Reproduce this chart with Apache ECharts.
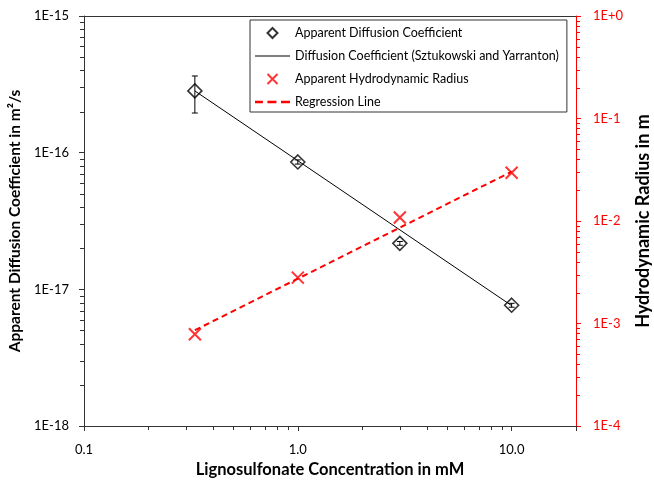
<!DOCTYPE html>
<html>
<head>
<meta charset="utf-8">
<script src="https://cdn.jsdelivr.net/npm/echarts@6/dist/echarts.min.js"></script>
<style>
  html, body { margin: 0; padding: 0; background: #fff; }
  #chart { width: 654px; height: 480px; }
</style>
</head>
<body>
<div id="chart"></div>
<script>
// Concentrations (mM)
const concentrations = [0.33, 1.0, 3.0, 10.0];
// Apparent diffusion coefficient (m²/s) with error bar bounds
const diffusion = [2.83e-16, 8.55e-17, 2.17e-17, 7.65e-18];
const diffusionLow = [1.95e-16, 8.25e-17, 2.10e-17, 7.40e-18];
const diffusionHigh = [3.64e-16, 8.85e-17, 2.24e-17, 7.90e-18];
// Literature line (Sztukowski and Yarranton), end points
const literatureX = [0.33, 10.0];
const literatureY = [2.83e-16, 7.6e-18];
// Apparent hydrodynamic radius (m)
const radius = [7.85e-4, 2.80e-3, 1.08e-2, 2.96e-2];
// Regression line end points
const regressionX = [0.33, 10.0];
const regressionY = [8.6e-4, 3.03e-2];

// Tick labels, indexed by decade exponent
const xTickLabels = { '-1': '0.1', '0': '1.0', '1': '10.0' };
const leftTickLabels = { '-15': '1E-15', '-16': '1E-16', '-17': '1E-17', '-18': '1E-18' };
const rightTickLabels = { '0': '1E+0', '-1': '1E-1', '-2': '1E-2', '-3': '1E-3', '-4': '1E-4' };

// Minor tick multipliers and decades for the log axes
const minorSteps = [2, 3, 4, 5, 6, 7, 8, 9];
const xMinorDecades = [0.1, 1];
const leftMinorDecades = [1e-18, 1e-17, 1e-16];
const rightMinorDecades = [1e-4, 1e-3, 1e-2, 1e-1];

const X_MIN = 0.1, X_MAX = 20;
const L_MIN = 1e-18, L_MAX = 1e-15;
const R_MIN = 1e-4, R_MAX = 1;

const FONT = 'Lato';
const RED = '#ff0000';
const AXIS = '#333333';

function minorValues(decades) {
  const out = [];
  decades.forEach(d => minorSteps.forEach(m => out.push(m * d)));
  return out;
}

function labelFromMap(map) {
  return function (v) {
    const lg = Math.log10(v);
    const e = Math.round(lg);
    if (Math.abs(lg - e) > 0.01) return '';
    return map[String(e)] || '';
  };
}

const chart = echarts.init(document.getElementById('chart'), null, { renderer: 'canvas' });

const option = {
  backgroundColor: '#fff',
  animation: false,
  textStyle: { fontFamily: FONT },
  grid: { left: 84, right: 78, top: 16, bottom: 54, outerBoundsMode: 'none', containLabel: false },
  legend: {
    data: [
      { name: 'Apparent Diffusion Coefficient', icon: 'path://M5,0 L10,5 L5,10 L0,5 Z' },
      { name: 'Diffusion Coefficient (Sztukowski and Yarranton)', icon: 'path://M0,0 L35,0 L35,1.2 L0,1.2 Z' },
      { name: 'Apparent Hydrodynamic Radius', icon: 'path://M0,0 L10,10 M10,0 L0,10' },
      { name: 'Regression Line', icon: 'path://M0,0 h7 v2 h-7 Z M11,0 h8 v2 h-8 Z M23,0 h8 v2 h-8 Z' }
    ],
    orient: 'vertical',
    left: 250,
    top: 20,
    padding: [6, 8, 3, 5],
    itemWidth: 35,
    itemHeight: 10,
    itemGap: 9,
    symbolKeepAspect: true,
    borderColor: '#333',
    borderWidth: 1,
    backgroundColor: '#fff',
    textStyle: { fontFamily: FONT, fontSize: 12.5, color: '#000', lineHeight: 14 }
  },
  xAxis: [{
    type: 'log',
    logBase: 10,
    min: X_MIN,
    max: X_MAX,
    position: 'bottom',
    name: 'Lignosulfonate Concentration in mM',
    nameLocation: 'middle',
    nameGap: 35,
    nameTextStyle: { fontFamily: FONT, fontSize: 16.5, fontWeight: 'bold', color: '#000' },
    axisLine: { lineStyle: { color: AXIS, width: 1 } },
    axisTick: { show: true, inside: false, length: 5, lineStyle: { color: AXIS } },
    axisLabel: { margin: 17, fontSize: 13, color: '#000', fontFamily: FONT, formatter: labelFromMap(xTickLabels) },
    splitLine: { show: false }
  }, {
    type: 'log',
    logBase: 10,
    min: X_MIN,
    max: X_MAX,
    position: 'top',
    axisLine: { lineStyle: { color: AXIS, width: 1 } },
    axisTick: { show: false },
    axisLabel: { show: false },
    splitLine: { show: false }
  }],
  yAxis: [{
    type: 'log',
    logBase: 10,
    min: L_MIN,
    max: L_MAX,
    position: 'left',
    name: 'Apparent Diffusion Coefficient in m²/s',
    nameLocation: 'middle',
    nameRotate: 90,
    nameGap: 54,
    nameTextStyle: { fontFamily: FONT, fontSize: 15.5, fontWeight: 'bold', color: '#000' },
    axisLine: { show: true, lineStyle: { color: AXIS, width: 1 } },
    axisTick: { show: true, inside: false, length: 5, lineStyle: { color: AXIS } },
    axisLabel: { margin: 15, fontSize: 13, color: '#000', fontFamily: FONT, formatter: labelFromMap(leftTickLabels) },
    splitLine: { show: false }
  }, {
    type: 'log',
    logBase: 10,
    min: R_MIN,
    max: R_MAX,
    position: 'right',
    name: 'Hydrodynamic Radius in m',
    nameLocation: 'middle',
    nameRotate: 90,
    nameGap: 56,
    nameTextStyle: { fontFamily: FONT, fontSize: 18, fontWeight: 'bold', color: '#000' },
    axisLine: { show: true, lineStyle: { color: RED, width: 1 } },
    axisTick: { show: true, inside: false, length: 5, lineStyle: { color: RED } },
    axisLabel: { margin: 17, fontSize: 13, color: RED, fontFamily: FONT, formatter: labelFromMap(rightTickLabels) },
    splitLine: { show: false }
  }],
  series: [
    {
      name: 'Diffusion Coefficient (Sztukowski and Yarranton)',
      type: 'line',
      xAxisIndex: 0,
      yAxisIndex: 0,
      symbol: 'none',
      data: literatureX.map((x, i) => [x, literatureY[i]]),
      lineStyle: { color: '#000', width: 1 },
      itemStyle: { color: '#000' },
      z: 2
    },
    {
      name: 'Apparent Diffusion Coefficient',
      type: 'scatter',
      xAxisIndex: 0,
      yAxisIndex: 0,
      symbol: 'diamond',
      symbolSize: 14,
      data: concentrations.map((x, i) => [x, diffusion[i]]),
      itemStyle: { color: 'rgba(255,255,255,0)', borderColor: '#000', borderWidth: 1.6 },
      z: 4
    },
    {
      name: 'diffusionErrors',
      type: 'custom',
      xAxisIndex: 0,
      yAxisIndex: 0,
      clip: false,
      silent: true,
      z: 5,
      data: concentrations.map((x, i) => [x, diffusionLow[i], diffusionHigh[i]]),
      encode: { x: 0, y: [1, 2] },
      renderItem: function (params, api) {
        const x = api.value(0);
        const lo = api.coord([x, api.value(1)]);
        const hi = api.coord([x, api.value(2)]);
        const cap = 3;
        const st = { stroke: '#000', lineWidth: 1 };
        return {
          type: 'group',
          children: [
            { type: 'line', shape: { x1: lo[0], y1: lo[1], x2: hi[0], y2: hi[1] }, style: st },
            { type: 'line', shape: { x1: lo[0] - cap, y1: lo[1], x2: lo[0] + cap, y2: lo[1] }, style: st },
            { type: 'line', shape: { x1: hi[0] - cap, y1: hi[1], x2: hi[0] + cap, y2: hi[1] }, style: st }
          ]
        };
      }
    },
    {
      name: 'Apparent Hydrodynamic Radius',
      type: 'scatter',
      xAxisIndex: 0,
      yAxisIndex: 1,
      symbol: 'path://M0,0 L10,10 M10,0 L0,10',
      symbolSize: 12,
      data: concentrations.map((x, i) => [x, radius[i]]),
      itemStyle: { color: RED, borderColor: RED, borderWidth: 2 },
      z: 4
    },
    {
      name: 'Regression Line',
      type: 'line',
      xAxisIndex: 0,
      yAxisIndex: 1,
      symbol: 'none',
      data: regressionX.map((x, i) => [x, regressionY[i]]),
      lineStyle: { color: RED, width: 2, type: [6, 4] },
      itemStyle: { color: RED },
      z: 3
    }
  ]
};

chart.setOption(option);

// Minor log ticks (2..9 per decade), placed through the axes' own scales
function tickLine(p, dx, dy, color) {
  const x = dy !== 0 ? Math.round(p[0]) + 0.5 : Math.round(p[0]);
  const y = dx !== 0 ? Math.round(p[1]) + 0.5 : Math.round(p[1]);
  return {
    type: 'line',
    silent: true,
    z: 10,
    shape: { x1: x, y1: y, x2: x + dx, y2: y + dy },
    style: { stroke: color, lineWidth: 1 }
  };
}

const minorTicks = [];
minorValues(xMinorDecades).forEach(v => {
  const p = chart.convertToPixel({ xAxisIndex: 0, yAxisIndex: 0 }, [v, L_MIN]);
  minorTicks.push(tickLine(p, 0, 4, AXIS));
});
minorValues(leftMinorDecades).forEach(v => {
  const p = chart.convertToPixel({ xAxisIndex: 0, yAxisIndex: 0 }, [X_MIN, v]);
  minorTicks.push(tickLine(p, -4, 0, AXIS));
});
minorValues(rightMinorDecades).forEach(v => {
  const p = chart.convertToPixel({ xAxisIndex: 0, yAxisIndex: 1 }, [X_MAX, v]);
  minorTicks.push(tickLine(p, 4, 0, RED));
});
chart.setOption({ graphic: minorTicks });
</script>
</body>
</html>
